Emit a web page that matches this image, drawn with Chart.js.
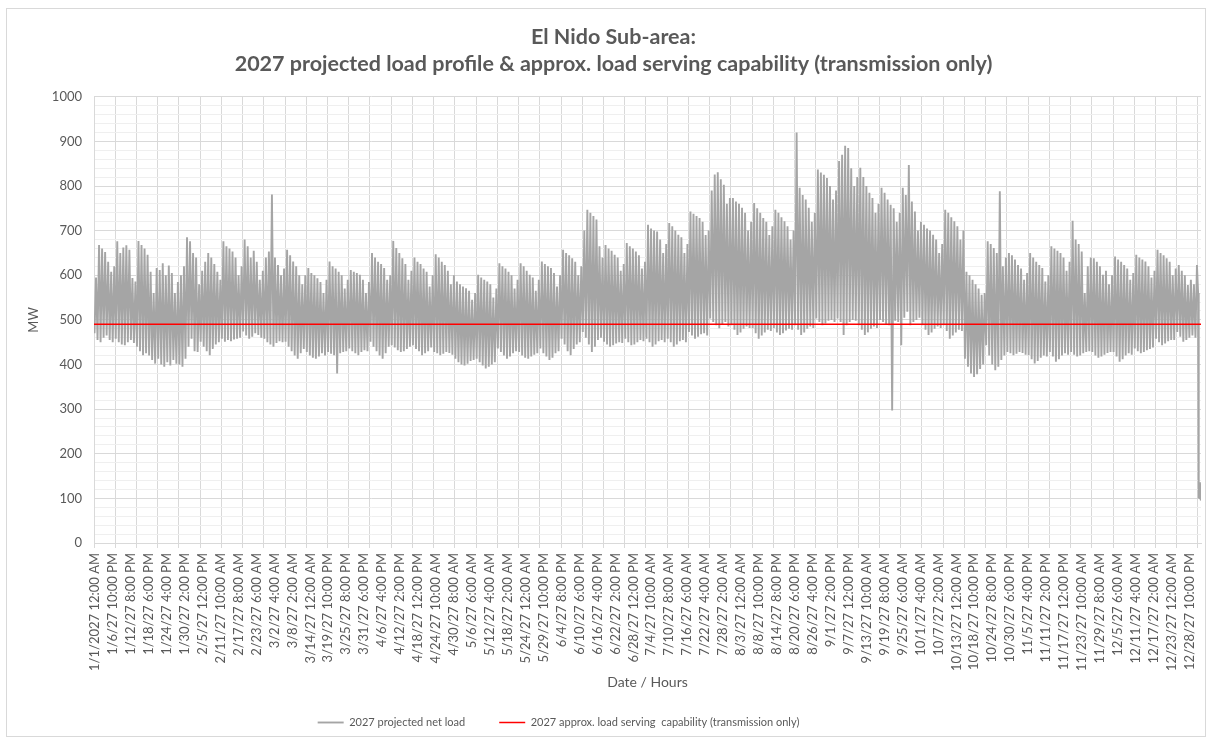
<!DOCTYPE html>
<html>
<head>
<meta charset="utf-8">
<script src="https://cdn.jsdelivr.net/npm/chart.js@4.4.1/dist/chart.umd.min.js"></script>
<style>
  html, body { margin: 0; padding: 0; background: #ffffff; }
  #wrap { width: 1212px; height: 743px; }
</style>
</head>
<body>
<div id="wrap"><canvas id="chart" width="1212" height="743"></canvas></div>
<script>
// ---------------- DATA ----------------
const titleLines = [
  'El Nido Sub-area:',
  '2027 projected load profile & approx. load serving capability (transmission only)'
];

const xTickLabels = [
  '1/1/2027 12:00 AM','1/6/27 10:00 PM','1/12/27 8:00 PM','1/18/27 6:00 PM','1/24/27 4:00 PM',
  '1/30/27 2:00 PM','2/5/27 12:00 PM','2/11/27 10:00 AM','2/17/27 8:00 AM','2/23/27 6:00 AM',
  '3/2/27 4:00 AM','3/8/27 2:00 AM','3/14/27 12:00 AM','3/19/27 10:00 PM','3/25/27 8:00 PM',
  '3/31/27 6:00 PM','4/6/27 4:00 PM','4/12/27 2:00 PM','4/18/27 12:00 PM','4/24/27 10:00 AM',
  '4/30/27 8:00 AM','5/6/27 6:00 AM','5/12/27 4:00 AM','5/18/27 2:00 AM','5/24/27 12:00 AM',
  '5/29/27 10:00 PM','6/4/27 8:00 PM','6/10/27 6:00 PM','6/16/27 4:00 PM','6/22/27 2:00 PM',
  '6/28/27 12:00 PM','7/4/27 10:00 AM','7/10/27 8:00 AM','7/16/27 6:00 AM','7/22/27 4:00 AM',
  '7/28/27 2:00 AM','8/3/27 12:00 AM','8/8/27 10:00 PM','8/14/27 8:00 PM','8/20/27 6:00 PM',
  '8/26/27 4:00 PM','9/1/27 2:00 PM','9/7/27 12:00 PM','9/13/27 10:00 AM','9/19/27 8:00 AM',
  '9/25/27 6:00 AM','10/1/27 4:00 AM','10/7/27 2:00 AM','10/13/27 12:00 AM','10/18/27 10:00 PM',
  '10/24/27 8:00 PM','10/30/27 6:00 PM','11/5/27 4:00 PM','11/11/27 2:00 PM','11/17/27 12:00 PM',
  '11/23/27 10:00 AM','11/29/27 8:00 AM','12/5/27 6:00 AM','12/11/27 4:00 AM','12/17/27 2:00 AM',
  '12/23/27 12:00 AM','12/28/27 10:00 PM'
];

// Daily peak of the hourly net load (MW), Jan 1 .. Dec 30, one row per week (Fri..Thu)
const dailyPeakMW = [
  595,668,660,652,630,608,620,
  676,650,662,667,657,594,586,
  677,668,660,646,608,560,616,
  612,627,600,622,605,560,585,
  600,620,685,676,650,640,580,
  610,630,650,640,625,608,590,
  676,665,660,653,640,600,620,
  680,665,640,655,630,590,610,
  640,653,781,640,623,600,615,
  657,645,631,620,600,580,600,
  616,605,600,593,585,560,590,
  631,620,615,608,600,570,590,
  612,608,605,601,590,560,585,
  650,640,630,625,616,590,600,
  677,661,650,638,625,590,610,
  640,630,625,615,608,575,600,
  647,640,630,623,610,580,600,
  586,580,575,571,565,545,560,
  601,595,590,586,580,550,570,
  627,620,615,608,600,570,590,
  627,620,610,601,595,565,590,
  631,625,620,616,605,575,600,
  657,650,645,638,630,600,620,
  700,747,740,733,725,665,640,
  668,660,655,646,640,610,625,
  672,665,660,653,645,615,630,
  713,705,700,698,680,650,670,
  717,710,700,691,685,650,670,
  743,738,733,728,720,690,700,
  790,826,831,815,803,760,773,
  773,765,760,751,740,700,720,
  762,750,740,728,720,690,710,
  747,740,730,721,710,680,700,
  920,796,780,770,751,720,740,
  837,830,825,818,800,770,790,
  856,870,890,885,840,800,820,
  841,820,800,785,773,740,760,
  796,785,770,758,750,720,740,
  796,780,847,765,743,700,720,
  713,705,700,691,680,650,670,
  747,740,730,721,710,680,700,
  608,600,590,580,570,556,560,
  676,670,661,650,788,620,640,
  650,645,635,623,615,590,605,
  650,640,630,623,616,586,600,
  665,660,655,650,640,610,630,
  722,680,670,653,560,620,640,
  638,630,620,601,610,580,600,
  642,635,630,623,615,590,605,
  646,640,635,631,620,595,610,
  657,650,645,638,630,600,615,
  623,610,600,578,590,580,623
];

// Daily overnight minimum of the hourly net load (MW), Jan 1 .. Dec 30
const dailyLowMW = [
  470,455,450,460,465,455,450,
  458,450,445,443,450,455,448,
  440,430,421,425,420,410,402,
  413,400,395,405,398,410,402,
  400,395,413,440,458,430,428,
  451,440,430,421,435,445,450,
  458,451,455,452,456,458,460,
  474,465,458,462,470,466,460,
  458,450,445,440,448,452,450,
  451,440,430,420,413,425,435,
  428,420,415,413,418,425,420,
  428,424,421,380,425,428,430,
  436,430,425,421,428,432,430,
  451,440,430,420,413,425,440,
  443,438,432,428,430,435,440,
  443,435,430,421,425,430,438,
  428,425,421,424,428,426,422,
  413,405,400,398,402,408,410,
  413,405,398,391,395,400,405,
  436,428,420,413,418,425,430,
  428,420,415,413,418,422,425,
  436,425,418,410,415,425,430,
  458,445,430,421,435,445,450,
  473,460,445,428,440,455,460,
  451,445,440,443,447,450,448,
  458,450,443,445,450,455,452,
  458,450,440,445,452,455,450,
  458,450,440,445,452,455,450,
  473,465,458,462,468,470,465,
  503,495,488,481,490,495,485,
  488,478,466,472,480,485,482,
  481,470,458,465,472,478,475,
  481,472,466,470,476,480,478,
  488,478,466,472,480,485,482,
  503,495,488,492,498,500,495,
  503,495,466,488,495,500,498,
  488,478,466,472,480,485,482,
  500,495,490,488,297,498,495,
  443,505,518,488,495,500,505,
  488,478,466,472,480,485,482,
  488,475,458,465,472,478,475,
  413,395,380,372,378,390,400,
  443,420,400,387,395,410,420,
  428,425,421,424,428,426,422,
  421,412,402,408,415,420,418,
  428,418,406,412,420,425,422,
  428,422,418,420,425,428,430,
  428,420,415,418,422,426,428,
  428,418,406,412,420,425,422,
  436,430,425,428,432,435,438,
  458,450,443,447,452,455,455,
  473,462,451,455,460,465,460
];

// Dec 31: last hours of the year, where the net load collapses
const yearEndHours = [8737, 8740, 8744, 8748, 8752, 8756, 8759];
const yearEndMW    = [560,  130,  100,  136,  98,   132,  95];

// Approx. load serving capability (transmission only), flat for the year
const capabilityHours = [0, 8760];
const capabilityMW    = [490, 490];

// ---------------- BUILD ----------------
const HOURS_PER_DAY = 24, LOW_HOUR = 4, PEAK_HOUR = 16;
const GRID_HOURS = 168, LABEL_HOURS = 142;

const loadPoints = [];
dailyPeakMW.forEach((peak, d) => {
  loadPoints.push({ x: d * HOURS_PER_DAY + LOW_HOUR, y: dailyLowMW[d] });
  loadPoints.push({ x: d * HOURS_PER_DAY + PEAK_HOUR, y: peak });
});
yearEndHours.forEach((h, i) => loadPoints.push({ x: h, y: yearEndMW[i] }));

const capPoints = capabilityHours.map((h, i) => ({ x: h, y: capabilityMW[i] }));

const FONT = 'Lato, "Open Sans", sans-serif';
const TXT = '#595959';

const frame = {
  id: 'frame',
  beforeDraw(chart) {
    const c = chart.ctx;
    c.save();
    c.fillStyle = '#ffffff';
    c.fillRect(0, 0, chart.width, chart.height);
    c.strokeStyle = '#D9D9D9';
    c.lineWidth = 1;
    c.strokeRect(6.5, 8.5, 1199, 728);
    c.restore();
  }
};

// Excel places this legend left of centre, slightly above the default spot
const legendShift = {
  id: 'legendShift',
  afterLayout(chart) {
    const lg = chart.legend;
    if (!lg) return;
    lg.left -= 55; lg.right -= 55;
    lg.top -= 3; lg.bottom -= 3;
  }
};

new Chart(document.getElementById('chart'), {
  type: 'line',
  data: {
    datasets: [
      {
        label: '2027 projected net load',
        data: loadPoints,
        borderColor: '#A5A5A5',
        backgroundColor: '#A5A5A5',
        borderWidth: 1.9,
        pointRadius: 0,
        tension: 0,
        order: 1
      },
      {
        label: '2027 approx. load serving  capability (transmission only)',
        data: capPoints,
        borderColor: '#FF0000',
        backgroundColor: '#FF0000',
        borderWidth: 1.5,
        pointRadius: 0,
        tension: 0,
        order: 0
      }
    ]
  },
  options: {
    responsive: false,
    animation: false,
    devicePixelRatio: 1,
    events: [],
    layout: { padding: { top: 10, left: 26, right: 11, bottom: 2 } },
    plugins: {
      title: {
        display: true,
        text: titleLines,
        color: TXT,
        font: { family: FONT, size: 21.5, weight: 'bold', lineHeight: 1.25 },
        padding: { top: 14, bottom: 19 }
      },
      legend: {
        position: 'bottom',
        labels: {
          color: TXT,
          font: { family: FONT, size: 11 },
          usePointStyle: true,
          pointStyle: 'line',
          pointStyleWidth: 26,
          boxWidth: 26,
          padding: 34,
          sort: (a, b) => a.datasetIndex - b.datasetIndex
        }
      },
      tooltip: { enabled: false }
    },
    scales: {
      x: {
        type: 'linear',
        min: 0,
        max: 8760,
        afterBuildTicks(scale) {
          const vals = new Set();
          for (let h = 0; h <= 8760; h += GRID_HOURS) vals.add(h);
          xTickLabels.forEach((_, i) => vals.add(i * LABEL_HOURS));
          scale.ticks = [...vals].sort((a, b) => a - b).map(v => ({ value: v }));
        },
        afterFit(scale) {
          scale.height = 143;
          scale.paddingLeft = 0;
          scale.paddingRight = 0;
        },
        ticks: {
          autoSkip: false,
          minRotation: 90,
          maxRotation: 90,
          padding: 5,
          labelOffset: 1,
          color: TXT,
          font: { family: FONT, size: 13 },
          callback(v) {
            const i = v / LABEL_HOURS;
            return (Number.isInteger(i) && i < xTickLabels.length) ? xTickLabels[i] : '';
          }
        },
        grid: {
          color: ctx => (ctx.tick && ctx.tick.value % GRID_HOURS === 0) ? '#D9D9D9' : 'rgba(0,0,0,0)',
          tickLength: 5,
          lineWidth: 1
        },
        border: { color: '#D9D9D9' },
        title: {
          display: true,
          text: 'Date / Hours',
          color: TXT,
          font: { family: FONT, size: 14 },
          padding: { top: 0, bottom: -5 }
        }
      },
      y: {
        min: 0,
        max: 1000,
        afterFit(scale) { scale.width = 68; },
        ticks: {
          stepSize: 20,
          autoSkip: false,
          color: TXT,
          font: { family: FONT, size: 13 },
          padding: 12,
          callback: v => (v % 100 === 0 ? String(v) : '')
        },
        grid: {
          color: ctx => (ctx.tick && ctx.tick.value % 100 === 0) ? '#D9D9D9' : '#EFEFEF',
          drawTicks: false
        },
        border: { color: '#D9D9D9' },
        title: {
          display: true,
          text: 'MW',
          color: TXT,
          font: { family: FONT, size: 13 },
          padding: { top: 0, bottom: 4 }
        }
      }
    }
  },
  plugins: [frame, legendShift]
});
</script>
</body>
</html>
